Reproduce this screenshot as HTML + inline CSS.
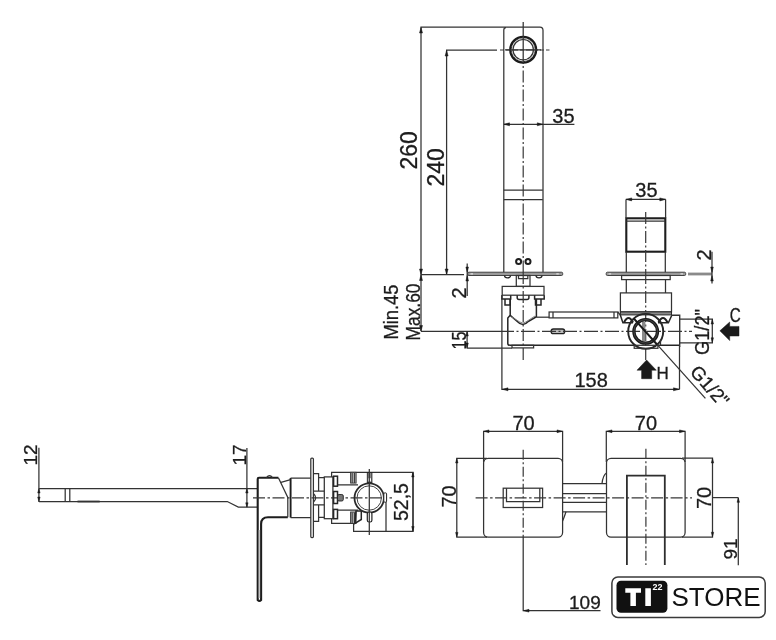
<!DOCTYPE html>
<html><head><meta charset="utf-8">
<style>
html,body{margin:0;padding:0;background:#fff;}
body{width:776px;height:640px;overflow:hidden;}
svg{display:block;will-change:transform;}
text{font-family:"Liberation Sans",sans-serif;fill:#1c1c1c;stroke:#1c1c1c;stroke-width:0.3;}
.l{fill:none;stroke:#333;stroke-width:1.25;}
.m{fill:none;stroke:#262626;stroke-width:1.5;}
.t{fill:none;stroke:#1e1e1e;stroke-width:2.1;}
.c{fill:none;stroke:#383838;stroke-width:1.2;stroke-dasharray:10 2.5 2 2.5;}
.g{fill:#9a9a9a;stroke:#333;stroke-width:0.9;}
.a{fill:#1a1a1a;stroke:#1a1a1a;stroke-width:0.5;stroke-linejoin:round;}
.d{font-size:20px;}
</style></head>
<body>
<svg width="776" height="640" viewBox="0 0 776 640">
<!-- ============ TOP RIGHT : side view ============ -->
<!-- dim 260 -->
<path class="l" d="M421,331.3 V27.2 H540 Q543,27.2 543,30.5 V272.5"/>
<path class="l" d="M503.8,272.5 V30 Q503.8,27.5 506,27.5"/>
<polygon class="a" points="421,27.6 419.5,33 422.5,33"/>
<polygon class="a" points="421,274.5 419.5,269 422.5,269"/>
<text class="d" style="font-size:23px" transform="translate(417,169.5) rotate(-90)">260</text>
<!-- dim 240 -->
<path class="l" d="M446.6,274.7 V50.1 H497"/>
<polygon class="a" points="446.6,50.5 445.1,56 448.1,56"/>
<polygon class="a" points="446.6,274.3 445.1,269 448.1,269"/>
<text class="d" style="font-size:23px" transform="translate(444,186.5) rotate(-90)">240</text>
<path class="c" d="M500,50 H549.5" style="stroke-dasharray:4 2 12 2"/>
<!-- spout circle -->
<circle cx="523.2" cy="49.7" r="12.8" fill="none" stroke="#1a1a1a" stroke-width="2.5"/>
<circle cx="523.2" cy="49.7" r="10.2" fill="none" stroke="#333" stroke-width="1.2"/>
<circle cx="523.2" cy="49.7" r="11.5" fill="none" stroke="#aaa" stroke-width="0.9" stroke-dasharray="2 1.5"/>
<!-- vertical centre line spout -->
<path class="l" d="M523.2,22 V64 M505,49.9 H541"/>
<path class="c" d="M523.2,66 V272" style="stroke-dasharray:2 2.5 12 2.5"/>
<!-- dim 35 top -->
<path class="l" d="M503.8,124.3 H574.4"/>
<polygon class="a" points="504,124.3 509.5,122.8 509.5,125.8"/>
<polygon class="a" points="542.8,124.3 537.3,122.8 537.3,125.8"/>
<text class="d" x="552.3" y="122.7">35</text>
<path class="l" d="M503.8,190 H542.8 M503.8,199.6 H542.8"/>
<circle cx="518.6" cy="261.6" r="2.5" fill="none" stroke="#1e1e1e" stroke-width="2"/>
<circle cx="528" cy="261.6" r="2.5" fill="none" stroke="#1e1e1e" stroke-width="2"/>
<!-- wall plate left -->
<path class="l" d="M421,274.7 H464"/>
<rect class="g" x="467.7" y="272.2" width="95" height="3.3" rx="1.2"/>
<path d="M470.5,273.85 H473 M556.3,273.85 H558.8" stroke="#ddd" stroke-width="1.4"/>
<path d="M504.5,275.5 a3,2.3 0 0 0 6,0 M536,275.5 a3,2.3 0 0 0 6,0" fill="none" stroke="#2a2a2a" stroke-width="1.3"/>
<!-- dim 2 left -->
<path class="l" d="M467.2,263.4 V295.9"/>
<polygon class="a" points="467.2,272.2 465.9,267 468.5,267"/>
<polygon class="a" points="467.2,275.5 465.9,281 468.5,281"/>
<text class="d" transform="translate(466,298.5) rotate(-90)">2</text>
<!-- valve under spout -->
<rect class="l" x="516.3" y="275.5" width="13.7" height="10.9"/>
<path class="l" d="M518.5,276 V278.5 H527.8 V276"/>
<rect class="l" x="502.2" y="286.4" width="41.8" height="8.8"/>
<path class="m" d="M501.9,295.2 V298.9 H510.7 V295.2 M534.6,295.2 V298.9 H544.2 V295.2"/>
<path class="m" d="M505,299 V305 H510.2 V299 M535.5,299 V305 H541 V299"/>
<path class="m" d="M517.2,295.2 V297.8 Q517.2,299.5 519,299.5 H527 Q528.9,299.5 528.9,297.8 V295.2"/>
<path class="m" d="M510.2,299 V315.3 L517,321.3 Q522.8,327.5 528.6,321.3 L536.4,316.7 V299"/>
<path class="l" d="M511.5,316.8 L519.8,322 Q522.8,324 525.8,322 L535,316" style="stroke:#777;stroke-width:0.9"/>
<path class="m" d="M510.2,315.3 L507.8,318.1 V343.5 Q507.8,345.3 510,345.3 H634.2 M657.9,345.3 H680"/>
<path class="l" d="M536.4,317.2 H549.1"/>
<rect class="l" x="549.1" y="312" width="68.7" height="5.9"/>
<path class="l" d="M553,312 V317.9 M614,312 V317.9"/>
<rect x="551.1" y="329" width="13.6" height="4.7" rx="2.3" fill="#bbb" stroke="#222" stroke-width="1.3"/>
<rect class="l" x="512" y="345.3" width="21.6" height="2.6"/>
<path class="c" d="M523.2,272 V360" style="stroke-dasharray:12 2.5 2 2.5"/>
<!-- centre line horizontal -->
<path class="l" d="M421,331.3 H500"/>
<path class="c" d="M500,331.3 H692" style="stroke-dasharray:14 2.5 2 2.5"/>
<polygon class="a" points="421,275 419.5,280.5 422.5,280.5"/>
<polygon class="a" points="421,331 419.5,325.5 422.5,325.5"/>
<text class="d" style="font-size:20px" textLength="55" lengthAdjust="spacingAndGlyphs" transform="translate(398.3,339.5) rotate(-90)">Min.45</text>
<text class="d" style="font-size:20px" textLength="57" lengthAdjust="spacingAndGlyphs" transform="translate(420,340.5) rotate(-90)">Max.60</text>
<!-- dim 15 -->
<path class="l" d="M466.6,348 H512 M467.1,331.3 V348"/>
<polygon class="a" points="467.1,331.5 465.9,336 468.3,336"/>
<polygon class="a" points="467.1,347.8 465.9,343 468.3,343"/>
<text class="d" textLength="18" lengthAdjust="spacingAndGlyphs" transform="translate(466,349.5) rotate(-90)">15</text>
<!-- dim 158 -->
<path class="l" d="M501.9,295.2 V389.3 H679.5 M679.5,346 V389.3"/>
<polygon class="a" points="502.4,389.3 508,387.8 508,390.8"/>
<polygon class="a" points="679.2,389.3 673.5,387.8 673.5,390.8"/>
<text class="d" x="574.5" y="387.3">158</text>

<!-- right valve (handle side) -->
<path class="l" d="M626,199.4 V217.7 M665.6,199.4 V217.7 M625.8,199.4 H665.7"/>
<polygon class="a" points="626.2,199.4 631.7,197.9 631.7,200.9"/>
<polygon class="a" points="665.4,199.4 659.8,197.9 659.8,200.9"/>
<text class="d" x="635.3" y="197">35</text>
<rect class="t" x="626.3" y="218.3" width="39" height="33.4"/>
<path class="l" d="M626.3,221.2 H665.3"/>
<path class="c" d="M645.7,212 V272" style="stroke-dasharray:12 2.5 2 2.5"/>
<path class="l" d="M626.3,251.7 V272.4 M665.3,251.7 V272.4"/>
<rect class="g" x="606.2" y="272.2" width="79.5" height="3.3" rx="1.2"/>
<path d="M608.6,273.85 H611.1 M680.5,273.85 H683" stroke="#ddd" stroke-width="1.4"/>
<path d="M688,274 H712" stroke="#8a8a8a" stroke-width="2.8"/>
<path class="l" d="M712,251.7 V283.4"/>
<polygon class="a" points="712,272.4 710.7,267 713.3,267"/>
<polygon class="a" points="712,275.6 710.7,281 713.3,281"/>
<text class="d" transform="translate(711,260.5) rotate(-90)">2</text>
<rect class="l" x="621.6" y="275.5" width="48.6" height="4.1"/>
<path class="l" d="M626.3,279.6 V292.9 M665.5,279.6 V292.9"/>
<path class="c" d="M645.7,272 V365" style="stroke-dasharray:12 2.5 2 2.5"/>
<rect class="l" x="620.4" y="292.9" width="51.1" height="19"/>
<rect x="620.4" y="311.9" width="51.1" height="3" fill="#8a8a8a" stroke="#2a2a2a" stroke-width="1"/>
<!-- trapezoid below block -->
<path class="m" d="M620.3,315 L622.9,322.8 H633 M671.8,315.2 L668.4,322.8 H658"/>
<path d="M624,322.5 Q628.5,313.5 633,322.5 M658.5,322.5 Q663,313.5 667.5,322.5" fill="none" stroke="#222" stroke-width="2"/>
<path class="l" d="M617.8,312 L620.3,315"/>
<circle cx="645.7" cy="331.4" r="17.5" fill="none" stroke="#262626" stroke-width="1.9"/>
<circle cx="645.7" cy="331.4" r="11.8" fill="none" stroke="#1a1a1a" stroke-width="3.3"/>
<circle cx="645.7" cy="331.4" r="11.8" fill="none" stroke="#555" stroke-width="0.7"/>
<rect x="642" y="322" width="3.4" height="19" fill="#8a8a8a"/>
<path class="l" d="M671.8,315.2 H679.7 V347" style="stroke-width:1.4"/>
<path class="l" d="M660.5,340 V345.3"/>
<rect class="l" x="634.2" y="345.3" width="23.7" height="3"/>
<path class="l" d="M633.7,318.3 L705.4,398.4"/>
<path d="M633.7,318.3 L657,344.5" stroke="#1a1a1a" stroke-width="1.9"/>
<!-- G1/2 dims right -->
<path class="l" d="M679.7,319.1 H713 M679.7,342.8 H713 M712.3,319.1 V342.8"/>
<polygon class="a" points="712.3,319.5 711.1,324 713.5,324"/>
<polygon class="a" points="712.3,342.3 711.1,337.8 713.5,337.8"/>
<text class="d" style="font-size:21px" textLength="46" lengthAdjust="spacingAndGlyphs" transform="translate(708.8,355) rotate(-90)">G1/2"</text>
<!-- arrow C -->
<polygon class="a" points="719.9,330.8 729.7,322 729.7,326.4 739,326.4 739,336 729.7,336 729.7,340.6"/>
<text class="d" x="729.8" y="321.7" style="font-size:19.5px" textLength="11" lengthAdjust="spacingAndGlyphs">C</text>
<!-- arrow H -->
<polygon class="a" points="646.6,360 656.3,370.2 651.7,370.2 651.7,378.7 641.6,378.7 641.6,370.2 637,370.2"/>
<text class="d" x="656.5" y="378.7" style="font-size:17px">H</text>
<text class="d" style="font-size:19px" transform="translate(689,372.5) rotate(48.4)">G1/2"</text>

<!-- ============ BOTTOM LEFT : side view ============ -->
<path class="l" d="M38.9,447.7 V501.9"/>
<polygon class="a" points="38.9,488.7 37.7,493 40.1,493"/>
<polygon class="a" points="38.9,501.3 37.7,497 40.1,497"/>
<text class="d" style="font-size:19px" transform="translate(37.3,465.5) rotate(-90)">12</text>
<path class="l" d="M38.9,488.5 H257.7 M38.9,501.5 H227.3 L238.3,507 H257.7"/>
<path class="l" d="M65.2,488.5 V501.5 M69.8,488.5 V501.5"/>
<path d="M77.5,501.5 H99.7" stroke="#333" stroke-width="1.8"/>
<path class="l" d="M246.9,448 V507.3"/>
<polygon class="a" points="246.9,488.8 245.7,493 248.1,493"/>
<polygon class="a" points="246.9,507 245.7,502.8 248.1,502.8"/>
<text class="d" style="font-size:19px" transform="translate(245.8,465.5) rotate(-90)">17</text>
<!-- handle -->
<path class="t" d="M278.4,477.7 H259 Q257.7,477.7 257.7,479 V600 Q259.4,601.8 261.1,600 V524 Q261.1,517.3 268,517.3 H287.8"/>
<path d="M259.4,530 V598" stroke="#c4c4c4" stroke-width="1.4"/>
<path class="l" d="M278.4,477.7 L287.8,497.5 V517.3"/>
<path class="l" d="M266.5,477.7 Q269.5,473.5 272.5,477.7"/>
<path class="l" d="M281,482.3 L290.6,479.7"/>
<path class="c" d="M253,497.8 H392" style="stroke-dasharray:12 2.5 2.5 2.5"/>
<!-- escutcheon -->
<path d="M290.6,517.6 V478" stroke="#1e1e1e" stroke-width="1.9"/>
<path class="l" d="M290.6,478 H310.8 M290.6,517.6 H310.8"/>
<rect class="l" x="310.8" y="458" width="2.6" height="79.5" rx="1"/>
<path class="l" d="M313.4,473.6 H318.6 V491 M313.4,521.4 H318.6 V504.8 M313.4,491 H324.3 M313.4,504.8 H324.3 M318.6,477.6 H324.3 M318.6,517.4 H324.3"/>
<path class="l" d="M313.4,493.5 Q318,497.8 313.4,502.2"/>
<rect class="l" x="324.3" y="476.9" width="8.6" height="41.8"/>
<path class="l" d="M331.6,476.9 V472.3 H413.1 V531.3 H353.6 V523.4 H331.6 V518.7"/>
<rect class="m" x="333.6" y="476.2" width="3.9" height="10"/>
<rect class="m" x="333.6" y="491.5" width="3.9" height="12"/>
<rect class="m" x="333.6" y="509.4" width="3.9" height="9.3"/>
<rect x="337.5" y="494.5" width="5.8" height="6.5" rx="1.5" fill="#777" stroke="#222" stroke-width="0.9"/>
<rect x="350.6" y="472.3" width="5.5" height="10.8" fill="#aaa" stroke="#333" stroke-width="0.9"/>
<path d="M352.2,473 V483 M354.5,473 V483" stroke="#333" stroke-width="0.9"/>
<rect x="350.6" y="512" width="5.5" height="11.4" fill="#aaa" stroke="#333" stroke-width="0.9"/>
<path d="M352.2,512.5 V523 M354.5,512.5 V523" stroke="#333" stroke-width="0.9"/>
<path class="l" d="M337.5,484.9 H358 M337.5,510.1 H358"/>
<path class="m" d="M356,511 H361.3 V519.5 L355,523.4 Z"/>
<circle cx="369.2" cy="498" r="14.7" fill="none" stroke="#2a2a2a" stroke-width="1.8"/>
<circle cx="369.2" cy="498" r="12.2" fill="none" stroke="#444" stroke-width="1"/>
<rect x="367.3" y="472.5" width="4.6" height="10" fill="#8a8a8a" stroke="#222" stroke-width="0.9"/>
<rect x="368.2" y="478" width="2.8" height="3.6" rx="1" fill="#fff"/>
<rect x="367.3" y="512" width="4.6" height="10" rx="1.8" fill="#fff" stroke="#222" stroke-width="1.2"/>
<rect x="383.8" y="492.9" width="2.8" height="9.3" rx="1" fill="#fff" stroke="#222" stroke-width="1"/>
<path class="l" d="M369.3,469 V535"/>
<path class="l" d="M386,502 V531.3"/>
<path class="l" d="M412.9,472.2 V531.3"/>
<polygon class="a" points="412.9,472.7 411.7,477 414.1,477"/>
<polygon class="a" points="412.9,530.8 411.7,526.5 414.1,526.5"/>
<text class="d" style="font-size:19.5px" transform="translate(407.8,521) rotate(-90)">52,5</text>

<!-- ============ BOTTOM MIDDLE : front view ============ -->
<rect class="l" x="483.6" y="458.3" width="79" height="78.8" rx="4.5"/>
<path class="l" d="M483.6,462 V431.3 H562.6 V462"/>
<polygon class="a" points="483.9,431.3 489,429.9 489,432.7"/>
<polygon class="a" points="562.3,431.3 557,429.9 557,432.7"/>
<text class="d" x="512.5" y="429.7">70</text>
<path class="l" d="M487,458.3 H456.8 V537.1 H487"/>
<polygon class="a" points="456.8,458.6 455.6,463 458,463"/>
<polygon class="a" points="456.8,536.8 455.6,532.4 458,532.4"/>
<text class="d" style="font-size:20px" transform="translate(455.6,507.5) rotate(-90)">70</text>
<rect class="l" x="503.2" y="488.2" width="39.4" height="19.3"/>
<path class="l" d="M506.5,488.2 V501.6 H539.8 V488.2"/>
<path class="c" d="M523.2,449.7 V537" style="stroke-dasharray:10 2.5 2 2.5"/>
<path class="l" d="M523.2,537 V610.7 H600.5"/>
<polygon class="a" points="523.5,610.7 529,609.3 529,612.1"/>
<text class="d" x="569" y="608.9" style="font-size:19px">109</text>
<path class="c" d="M475.6,497.8 H692" style="stroke-dasharray:12 2.5 2.5 2.5"/>
<path class="l" d="M712.5,497.6 H738.3"/>
<path class="l" d="M562.6,483.6 H606.5 M562.6,493.5 H606.5 M562.6,502.3 H606.5 M562.6,511.8 H606.5"/>
<path class="l" d="M602,483.6 Q603,475 606.5,473 M566,511.8 Q564,518 562.6,521"/>
<rect class="l" x="606.5" y="458.3" width="78.6" height="78.8" rx="4.5"/>
<path class="l" d="M606.3,462 V431.3 H685.1 V462"/>
<polygon class="a" points="606.6,431.3 612,429.9 612,432.7"/>
<polygon class="a" points="684.8,431.3 679.5,429.9 679.5,432.7"/>
<text class="d" x="634.8" y="430.4">70</text>
<path class="c" d="M645.9,448.7 V565" style="stroke-dasharray:10 2.5 2 2.5"/>
<path class="t" d="M626.9,565 V475.6 H664.8 V565" style="stroke-width:1.8;stroke:#2e2e2e"/>
<path class="l" d="M682,458.1 H712.5 V537.1 H682"/>
<polygon class="a" points="712.5,458.5 711.3,463 713.7,463"/>
<polygon class="a" points="712.5,536.7 711.3,532.2 713.7,532.2"/>
<text class="d" transform="translate(711,509) rotate(-90)">70</text>
<path class="l" d="M738.3,497.6 V565.2"/>
<polygon class="a" points="738.3,498 737.1,502.3 739.5,502.3"/>
<text class="d" style="font-size:19px" transform="translate(736.7,559.5) rotate(-90)">91</text>

<!-- ============ LOGO ============ -->
<rect x="611.9" y="576.9" width="153.3" height="40.5" rx="6" fill="#fff" stroke="#3a3a3a" stroke-width="1.5"/>
<rect x="616.5" y="580.8" width="50.9" height="32" rx="4.5" fill="#111"/>
<path d="M625.3,588.2 H641 V592.7 H635.9 V606 H630.4 V592.7 H625.3 Z M645.3,588.2 H650.9 V606 H645.3 Z" fill="#fff"/>
<text x="652.6" y="590.4" style="font-size:9px;font-weight:bold;fill:#fff;stroke:none">22</text>
<text x="671.5" y="606" style="font-size:26px;fill:#111;stroke:none">STORE</text>
</svg>
</body></html>
